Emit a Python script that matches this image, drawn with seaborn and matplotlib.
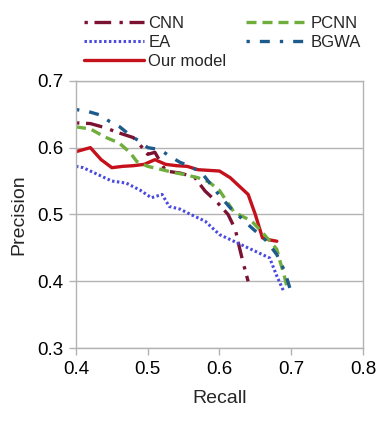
import pandas as pd
import matplotlib
matplotlib.use('Agg')
import matplotlib.pyplot as plt
import seaborn as sns

# Datos (recall, precision)
cnn_r = [0.400, 0.420, 0.440, 0.460, 0.480, 0.490, 0.500, 0.510, 0.525, 0.545,
         0.565, 0.580, 0.597, 0.612, 0.622, 0.628, 0.633, 0.640]
cnn_p = [0.637, 0.636, 0.630, 0.622, 0.615, 0.603, 0.590, 0.593, 0.565, 0.562,
         0.556, 0.535, 0.518, 0.500, 0.478, 0.450, 0.428, 0.400]

ea_r = [0.400, 0.410, 0.430, 0.450, 0.470, 0.490, 0.505, 0.520, 0.530, 0.545,
        0.560, 0.580, 0.600, 0.620, 0.640, 0.660, 0.670, 0.680, 0.690]
ea_p = [0.572, 0.570, 0.560, 0.550, 0.547, 0.536, 0.525, 0.530, 0.512, 0.508,
        0.500, 0.490, 0.470, 0.460, 0.450, 0.440, 0.435, 0.408, 0.384]

ours_r = [0.400, 0.420, 0.435, 0.450, 0.465, 0.480, 0.495, 0.510, 0.525, 0.540,
          0.555, 0.570, 0.585, 0.600, 0.615, 0.630, 0.640, 0.650, 0.660, 0.670, 0.680]
ours_p = [0.594, 0.600, 0.582, 0.570, 0.572, 0.573, 0.575, 0.582, 0.575, 0.573,
          0.572, 0.567, 0.566, 0.565, 0.555, 0.540, 0.530, 0.500, 0.465, 0.462, 0.460]

pcnn_r = [0.400, 0.420, 0.440, 0.460, 0.475, 0.485, 0.500, 0.520, 0.535, 0.550,
          0.570, 0.585, 0.600, 0.620, 0.645, 0.660, 0.680, 0.685, 0.690, 0.695]
pcnn_p = [0.631, 0.628, 0.616, 0.607, 0.593, 0.579, 0.572, 0.567, 0.563, 0.560,
          0.555, 0.549, 0.536, 0.504, 0.490, 0.473, 0.448, 0.428, 0.410, 0.388]

bgwa_r = [0.400, 0.417, 0.433, 0.447, 0.461, 0.475, 0.489, 0.500, 0.517, 0.531,
          0.545, 0.560, 0.577, 0.595, 0.615, 0.643, 0.666, 0.680, 0.691, 0.701]
bgwa_p = [0.657, 0.654, 0.649, 0.639, 0.631, 0.619, 0.609, 0.600, 0.597, 0.587,
          0.578, 0.572, 0.560, 0.535, 0.510, 0.482, 0.460, 0.440, 0.415, 0.380]

sns.set_style('white')
plt.rcParams['font.family'] = ['Liberation Sans', 'DejaVu Sans']

fig = plt.figure(figsize=(3.84, 4.32), dpi=100)
ax = fig.add_axes([0.198, 0.194, 0.747, 0.619])

sns.lineplot(x=cnn_r, y=cnn_p, ax=ax, color='#7b1232', lw=2.4, label='CNN', sort=False)
sns.lineplot(x=ea_r, y=ea_p, ax=ax, color='#4a4ae0', lw=2.2, label='EA', sort=False)
sns.lineplot(x=ours_r, y=ours_p, ax=ax, color='#c4111b', lw=2.4, label='Our model', sort=False)
sns.lineplot(x=pcnn_r, y=pcnn_p, ax=ax, color='#6fae3c', lw=2.4, label='PCNN', sort=False)
sns.lineplot(x=bgwa_r, y=bgwa_p, ax=ax, color='#1e5a8c', lw=2.4, label='BGWA', sort=False)

styles = [(0, (1, 2, 5, 2.5)), (0, (0.8, 0.8)), '-', (0, (3, 1.8)), (0, (1, 3, 3, 3))]
for line, st in zip(ax.lines, styles):
    line.set_linestyle(st)

ax.set_xlim(0.4, 0.8)
ax.set_ylim(0.3, 0.7)
ax.set_xticks([0.4, 0.5, 0.6, 0.7, 0.8])
ax.set_yticks([0.3, 0.4, 0.5, 0.6, 0.7])
ax.set_xticklabels(['0.4', '0.5', '0.6', '0.7', '0.8'])
ax.set_yticklabels(['0.3', '0.4', '0.5', '0.6', '0.7'])
ax.yaxis.grid(True, color='#b3b3b3', lw=1)
for s in ax.spines.values():
    s.set_color('#b3b3b3')
    s.set_linewidth(1)
ax.tick_params(axis='both', colors='#b3b3b3', labelcolor='black', labelsize=13.5,
               length=5, width=1, direction='out', bottom=True, left=True, pad=4)
ax.set_xlabel('Recall', fontsize=14, labelpad=9)
ax.set_ylabel('Precision', fontsize=14, labelpad=7)

handles, labels = ax.get_legend_handles_labels()
ax.legend(handles, labels, loc='lower left', bbox_to_anchor=(84 / 384, 1 - 69 / 432),
          bbox_transform=fig.transFigure, ncol=2, frameon=False, fontsize=12,
          handlelength=3.6, handletextpad=0.25, labelspacing=0.25, columnspacing=1.2,
          borderpad=0, borderaxespad=0)

fig.savefig('out.png', dpi=100)
